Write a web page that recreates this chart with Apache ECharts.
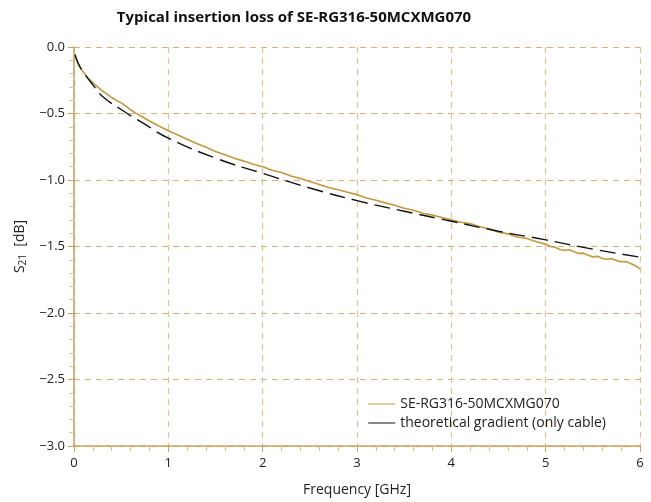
<!DOCTYPE html>
<html><head><meta charset="utf-8">
<script src="https://cdn.jsdelivr.net/npm/echarts@6/dist/echarts.min.js"></script>
<style>html,body{margin:0;padding:0;background:#fff}#c{width:651px;height:502px}</style>
</head><body><div id="c"></div>
<script>
// Measured insertion loss (GHz, dB)
var measuredFreq = [0.01,0.03,0.05,0.08,0.1,0.15,0.2,0.25,0.3,0.35,0.4,0.45,0.5,0.55,0.6,0.65,0.7,0.8,0.9,1.0,1.1,1.2,1.3,1.4,1.5,1.6,1.7,1.8,1.9,2.0,2.1,2.2,2.3,2.4,2.5,2.6,2.7,2.8,2.9,3.0,3.1,3.2,3.3,3.4,3.5,3.6,3.7,3.8,3.9,4.0,4.1,4.2,4.3,4.4,4.5,4.6,4.7,4.8,4.9,5.0,5.05,5.1,5.15,5.2,5.25,5.3,5.35,5.4,5.45,5.5,5.55,5.6,5.65,5.7,5.75,5.8,5.85,5.9,5.95,6.0];
var measuredLoss = [-0.05,-0.10,-0.14,-0.17,-0.19,-0.235,-0.27,-0.30,-0.33,-0.355,-0.38,-0.402,-0.42,-0.445,-0.472,-0.495,-0.515,-0.556,-0.594,-0.63,-0.662,-0.694,-0.726,-0.754,-0.786,-0.81,-0.836,-0.858,-0.882,-0.90,-0.926,-0.944,-0.97,-0.988,-1.012,-1.034,-1.056,-1.074,-1.092,-1.11,-1.136,-1.152,-1.172,-1.19,-1.212,-1.228,-1.25,-1.264,-1.282,-1.30,-1.318,-1.328,-1.352,-1.366,-1.392,-1.405,-1.428,-1.44,-1.465,-1.482,-1.50,-1.505,-1.522,-1.53,-1.524,-1.54,-1.552,-1.55,-1.565,-1.578,-1.574,-1.59,-1.596,-1.592,-1.605,-1.615,-1.613,-1.628,-1.645,-1.668];
// Theoretical gradient (only cable)
var theoryFreq = [0.01,0.05,0.1,0.2,0.3,0.5,0.75,1.0,1.5,2.0,2.5,3.0,3.5,4.0,4.5,5.0,5.5,6.0];
var theoryLoss = [-0.06,-0.13,-0.19,-0.285,-0.37,-0.47,-0.58,-0.685,-0.835,-0.95,-1.06,-1.155,-1.235,-1.31,-1.385,-1.45,-1.52,-1.58];
var xTicks = {min:0, max:6, step:1};
var yTicks = {min:-3, max:0, step:0.5};
var seriesNames = ['SE-RG316-50MCXMG070','theoretical gradient (only cable)'];

function pairs(xs, ys){ return xs.map(function(x,i){return [x, ys[i]];}); }
var FONT = 'Open Sans';
var chart = echarts.init(document.getElementById('c'));
chart.setOption({
  animation:false,
  backgroundColor:'#fff',
  title:{text:'Typical insertion loss of SE-RG316-50MCXMG070', left:289, textAlign:'center', top:5,
    textStyle:{fontFamily:FONT, fontSize:15, fontWeight:'bold', color:'#111'}},
  grid:{left:74, right:11, top:47, bottom:56, containLabel:false},
  legend:{right:40, bottom:67, orient:'vertical', itemGap:5, itemWidth:27, itemHeight:10,
    textStyle:{fontFamily:FONT, fontSize:14, color:'#222'},
    data:[{name:seriesNames[0], icon:'path://M0,4.5L27,4.5L27,5.5L0,5.5Z'},{name:seriesNames[1], icon:'path://M0,4.5L27,4.5L27,5.5L0,5.5Z'}]},
  xAxis:{type:'value', min:xTicks.min, max:xTicks.max, interval:xTicks.step,
    name:'Frequency [GHz]', nameLocation:'middle', nameGap:37,
    nameTextStyle:{fontFamily:FONT, fontSize:14, color:'#222'},
    axisLine:{onZero:false, lineStyle:{color:'#c9a25c', width:1.5}},
    axisTick:{show:true, length:6, lineStyle:{color:'#c9a25c'}},
    minorTick:{show:true, splitNumber:5, length:5, lineStyle:{color:'#d9bd8a'}},
    axisLabel:{fontFamily:FONT, fontSize:13, color:'#222', margin:11},
    splitLine:{show:true, lineStyle:{color:'#dcc49a', type:[6,5], width:1.2}}},
  yAxis:{type:'value', min:yTicks.min, max:yTicks.max, interval:yTicks.step,
    name:'{s|S}{sub|21}{s|  [dB]}', nameLocation:'middle', nameGap:46, nameRotate:90,
    nameTextStyle:{rich:{s:{fontFamily:FONT, fontSize:14, color:'#222'}, sub:{fontFamily:FONT, fontSize:10, color:'#222', verticalAlign:'bottom', padding:[6,0,0,0]}}},
    axisLine:{show:true, onZero:false, lineStyle:{color:'#c9a25c', width:1.5}},
    axisTick:{show:true, length:6, lineStyle:{color:'#c9a25c'}},
    minorTick:{show:true, splitNumber:5, length:5, lineStyle:{color:'#dcc49a'}},
    axisLabel:{fontFamily:FONT, fontSize:13, color:'#222', margin:9,
      formatter:function(v){ return v.toFixed(1).replace('-', '\u2212'); }},
    splitLine:{show:true, lineStyle:{color:'#d4b37c', type:[6,5], width:1.2}}},
  series:[
    {name:seriesNames[0], type:'line', data:pairs(measuredFreq, measuredLoss), showSymbol:false, smooth:false,
      lineStyle:{color:'#c4983f', width:1.6}, itemStyle:{color:'#c4983f'}, z:2},
    {name:seriesNames[1], type:'line', data:pairs(theoryFreq, theoryLoss), showSymbol:false, smooth:true,
      lineStyle:{color:'#111', width:1.4, type:[16,7]}, itemStyle:{color:'#111'}, z:3}
  ]
});
</script></body></html>
